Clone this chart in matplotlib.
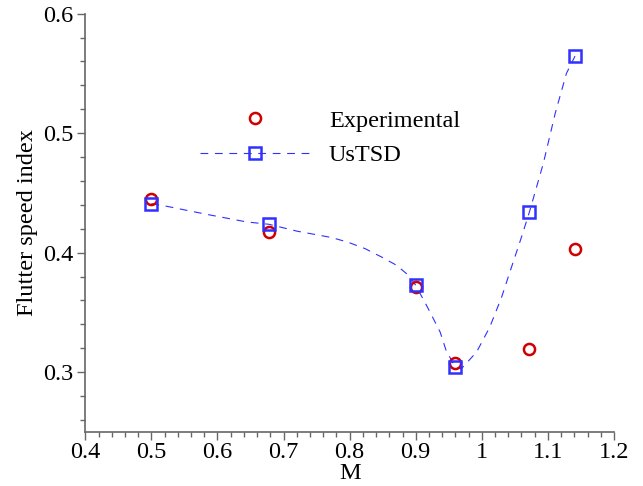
import matplotlib
matplotlib.use('Agg')
import matplotlib.pyplot as plt
from matplotlib.ticker import MultipleLocator

# Mach numbers of the test cases
mach = [0.50, 0.678, 0.90, 0.96, 1.072, 1.141]
experimental = [0.445, 0.417, 0.371, 0.3075, 0.3195, 0.403]
ustsd = [0.441, 0.4237, 0.3726, 0.304, 0.434, 0.5645]

# smooth UsTSD curve
curve_m = [0.50, 0.523, 0.584, 0.644, 0.678, 0.720, 0.773, 0.798, 0.823, 0.848,
           0.871, 0.889, 0.90, 0.919, 0.937, 0.946, 0.96, 0.969, 0.992, 1.012,
           1.030, 1.045, 1.060, 1.072, 1.093, 1.111, 1.128, 1.141]
curve_v = [0.441, 0.4388, 0.432, 0.4257, 0.4237, 0.418, 0.4126, 0.4086, 0.4034, 0.3964,
           0.3894, 0.381, 0.3726, 0.353, 0.3334, 0.318, 0.304, 0.3028, 0.3167, 0.3376,
           0.3628, 0.388, 0.413, 0.434, 0.4746, 0.5165, 0.55, 0.5645]

xticks = [0.4, 0.5, 0.6, 0.7, 0.8, 0.9, 1.0, 1.1, 1.2]
xtick_labels = ['0.4', '0.5', '0.6', '0.7', '0.8', '0.9', '1', '1.1', '1.2']
yticks = [0.3, 0.4, 0.5, 0.6]

plt.rcParams['font.family'] = ['Liberation Serif', 'DejaVu Serif']
plt.rcParams['font.size'] = 17.5

red = '#d00000'
blue = '#3030ff'
grey = '#666666'

fig = plt.figure(figsize=(6.43, 4.86), dpi=100)
ax = fig.add_axes([85.3 / 643, 1 - 431.8 / 486, 528.7 / 643, 418.1 / 486])

ax.plot(curve_m, curve_v, color=blue, lw=0.8, linestyle=(0, (7, 6)))
ax.plot(mach, experimental, 'o', color=red, mfc='none', ms=8, mew=1.8, label='Experimental')
ax.plot(mach, ustsd, 's', color=blue, mfc='none', ms=8, mew=1.8)
# legend proxy: dashed line with square marker
ax.plot([], [], color=blue, lw=0.8, linestyle=(0, (7, 6)), marker='s', mfc='none',
        ms=8, mew=1.8, label='UsTSD')

ax.set_xlim(0.4, 1.2)
ax.set_ylim(0.25, 0.6)
ax.set_xticks(xticks)
ax.set_xticklabels(xtick_labels)
ax.set_yticks(yticks)
ax.xaxis.set_minor_locator(MultipleLocator(0.02))
ax.yaxis.set_minor_locator(MultipleLocator(0.02))

for s in ['top', 'right']:
    ax.spines[s].set_visible(False)
for s in ['left', 'bottom']:
    ax.spines[s].set_color(grey)
    ax.spines[s].set_linewidth(1.2)
ax.tick_params(which='major', direction='out', length=5.5, width=1, color=grey, pad=3)
ax.tick_params(axis='x', which='major', pad=1.5)
ax.tick_params(which='minor', direction='out', length=3.5, width=1, color=grey)

ax.set_xlabel('M', labelpad=0)
ax.set_ylabel('Flutter speed index', labelpad=4)

ax.legend(loc='upper left', bbox_to_anchor=(0.217, 0.77), frameon=False, numpoints=1,
          handlelength=4.5, handletextpad=0.8, labelspacing=0.5, borderpad=0,
          borderaxespad=0)

fig.savefig('out.png', dpi=100)
